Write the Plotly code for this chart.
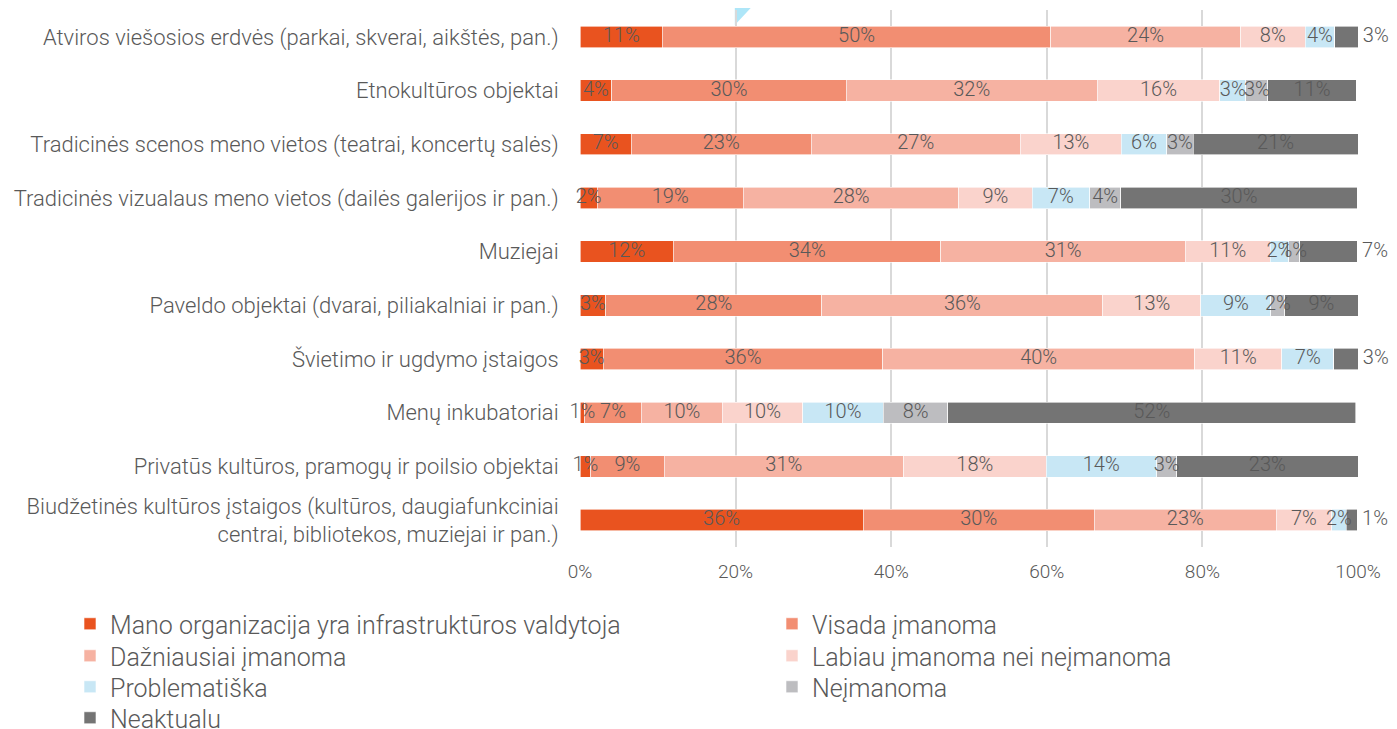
import plotly.graph_objects as go

categories = [
    "Atviros viešosios erdvės (parkai, skverai, aikštės, pan.)",
    "Etnokultūros objektai",
    "Tradicinės scenos meno vietos (teatrai, koncertų salės)",
    "Tradicinės vizualaus meno vietos (dailės galerijos ir pan.)",
    "Muziejai",
    "Paveldo objektai (dvarai, piliakalniai ir pan.)",
    "Švietimo ir ugdymo įstaigos",
    "Menų inkubatoriai",
    "Privatūs kultūros, pramogų ir poilsio objektai",
    "Biudžetinės kultūros įstaigos (kultūros, daugiafunkciniai<br>centrai, bibliotekos, muziejai ir pan.)",
]

mano = [10.6, 4.1, 6.6, 2.2, 12.0, 3.3, 3.0, 0.6, 1.4, 36.4]
visada = [49.9, 30.1, 23.1, 18.8, 34.4, 27.8, 35.9, 7.3, 9.4, 29.7]
dazniausiai = [24.4, 32.3, 26.9, 27.7, 31.4, 36.1, 40.1, 10.4, 30.8, 23.4]
labiau = [8.3, 15.7, 13.0, 9.4, 10.9, 12.6, 11.2, 10.3, 18.3, 7.1]
problematiska = [3.8, 3.4, 5.8, 7.4, 2.4, 9.0, 6.7, 10.4, 14.2, 1.9]
neimanoma = [0.0, 2.8, 3.4, 4.0, 1.4, 1.8, 0.0, 8.3, 2.6, 0.0]
neaktualu = [3.0, 11.4, 21.2, 30.4, 7.4, 9.4, 3.1, 52.4, 23.3, 1.4]

tick_vals = [0, 20, 40, 60, 80, 100]
tick_text = ["0%", "20%", "40%", "60%", "80%", "100%"]

# rows where the Neaktualu label sits to the right of the bar
outside_rows = [0, 4, 6, 9]

series = [
    ("Mano organizacija yra infrastruktūros valdytoja", mano, "#e9531f"),
    ("Visada įmanoma", visada, "#f28e72"),
    ("Dažniausiai įmanoma", dazniausiai, "#f6b2a2"),
    ("Labiau įmanoma nei neįmanoma", labiau, "#fad3cc"),
    ("Problematiška", problematiska, "#c8e7f5"),
    ("Neįmanoma", neimanoma, "#bdbdc0"),
    ("Neaktualu", neaktualu, "#747474"),
]

FONT = "Roboto"
TEXT_COLOR = "#595959"
OFF = 8  # page body margin
W, H = 1397 - OFF, 729 - OFF

# legend slots in page pixels (left edge, item centre) - two columns
legend_slots = [(70, 625), (772, 625), (70, 657), (772, 657), (70, 688), (772, 688), (70, 719)]

fig = go.Figure()

# stacked bars
for i, (name, vals, color) in enumerate(series):
    fig.add_trace(
        go.Bar(
            y=categories,
            x=vals,
            name=name,
            orientation="h",
            marker={"color": color, "line": {"color": "white", "width": 0.6}},
            legend="legend" if i == 0 else f"legend{i + 1}",
            hoverinfo="skip",
        )
    )

# value labels drawn on top of all bars
base = [0.0] * len(categories)
for name, vals, color in series:
    xs, ys, txt, pos = [], [], [], []
    for r, v in enumerate(vals):
        if v > 0:
            last = name == "Neaktualu" and r in outside_rows
            xs.append(base[r] + v if last else base[r] + v / 2)
            ys.append(categories[r])
            txt.append(("\u00a0" if last else "") + f"{round(v)}%")
            pos.append("middle right" if last else "middle center")
        base[r] += v
    fig.add_trace(
        go.Scatter(
            x=xs,
            y=ys,
            mode="text",
            text=txt,
            textposition=pos,
            textfont={"family": FONT, "size": 20, "color": TEXT_COLOR, "weight": 300},
            cliponaxis=False,
            showlegend=False,
            hoverinfo="skip",
        )
    )

layout_legends = {}
for i, (lx, cy) in enumerate(legend_slots):
    key = "legend" if i == 0 else f"legend{i + 1}"
    layout_legends[key] = {
        "orientation": "v",
        "xref": "paper",
        "yref": "container",
        "xanchor": "left",
        "yanchor": "top",
        "x": (lx - 580) / 778,
        "y": 1 - (cy - OFF - 24) / H,
        "font": {"family": FONT, "size": 25, "color": TEXT_COLOR, "weight": 300},
        "bgcolor": "rgba(0,0,0,0)",
        "itemclick": False,
    }

fig.update_layout(
    barmode="stack",
    bargap=0.6,
    width=W,
    height=H,
    paper_bgcolor="white",
    plot_bgcolor="white",
    margin={"l": 572, "r": W - 572 - 778, "t": 2, "b": H - 2 - 537, "autoexpand": False},
    font={"family": FONT, "color": TEXT_COLOR},
    xaxis={
        "range": [0, 100],
        "tickvals": tick_vals,
        "ticktext": tick_text,
        "showgrid": True,
        "gridcolor": "#d9d9d9",
        "gridwidth": 1.5,
        "zeroline": False,
        "showline": False,
        "ticks": "outside",
        "ticklen": 7,
        "tickcolor": "rgba(0,0,0,0)",
        "tickfont": {"family": FONT, "size": 19, "color": TEXT_COLOR, "weight": 300},
    },
    yaxis={
        "type": "category",
        "categoryorder": "array",
        "categoryarray": categories,
        "autorange": "reversed",
        "showgrid": False,
        "showline": False,
        "ticks": "outside",
        "ticklen": 16,
        "tickcolor": "rgba(0,0,0,0)",
        "tickfont": {"family": FONT, "size": 22, "color": TEXT_COLOR, "weight": 300},
    },
    shapes=[
        {
            "type": "path",
            "xref": "x",
            "yref": "paper",
            "path": "M 19.9 1.0186 L 22.9 1.0186 L 19.9 0.972 Z",
            "fillcolor": "#aee6f8",
            "line": {"width": 0},
            "layer": "below",
        }
    ],
    **layout_legends,
)

fig.write_html("out.html")
